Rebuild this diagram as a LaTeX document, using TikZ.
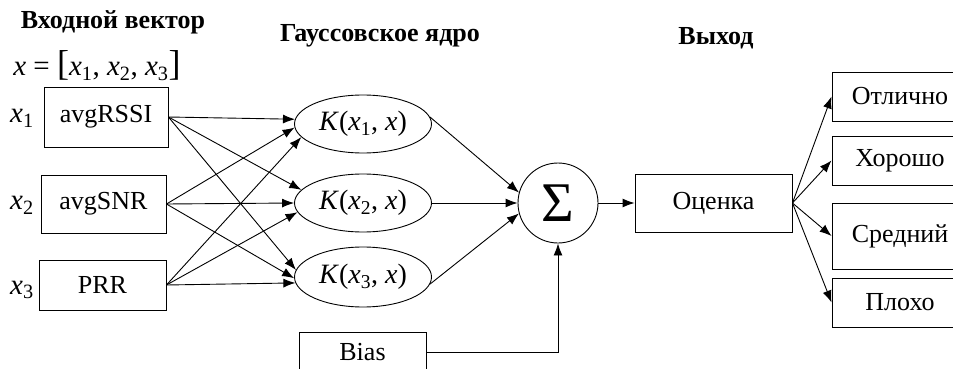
\documentclass[tikz,border=0pt]{standalone}
\usepackage{fontspec}
\setmainfont{Liberation Serif}
\usetikzlibrary{arrows.meta, shapes.geometric}
\newcommand{\vx}[1]{\textit{x}\textsubscript{#1}}
\tikzset{
  blk/.style={draw, line width=0.9pt, inner sep=0pt, font=\fontsize{26}{30}\selectfont},
  inbox/.style={blk, rectangle},
  kern/.style={blk, ellipse, minimum width=137pt, minimum height=58pt,
    font=\fontsize{28}{32}\selectfont},
  hdr/.style={font=\fontsize{26}{30}\selectfont\bfseries},
  mth/.style={font=\fontsize{29}{32}\selectfont},
  conn/.style={-{Latex[length=12pt, width=9pt]}, line width=0.9pt},
}

\begin{document}
\begin{tikzpicture}[x=1pt, y=-1pt]
  \useasboundingbox (0,0) rectangle (953,369);
  % headings
  \node[hdr] (hin) at (113,22) {Входной вектор};
  \node[hdr] (hker) at (380,36) {Гауссовское ядро};
  \node[hdr] (hout) at (716,38) {Выход};
  \node[mth] (vec) at (97,66) {\textit{x} = {\fontsize{36}{36}\selectfont[}\vx{1}, \vx{2}, \vx{3}{\fontsize{36}{36}\selectfont]}};
  % inputs
  \node[inbox, minimum width=124pt, minimum height=60pt] (in1) at (106,117) {avgRSSI};
  \node[inbox, minimum width=125pt, minimum height=58pt] (in2) at (103.5,204) {avgSNR};
  \node[inbox, minimum width=127pt, minimum height=50pt] (in3) at (102.5,285) {PRR};
  \node[mth] (lx1) at (22,118) {\vx{1}};
  \node[mth] (lx2) at (22,205) {\vx{2}};
  \node[mth] (lx3) at (22,290) {\vx{3}};
  % kernels
  \node[kern] (k1) at (363,124) {\textit{K}(\vx{1}, \textit{x})};
  \node[kern] (k2) at (363,203) {\textit{K}(\vx{2}, \textit{x})};
  \node[kern, minimum height=60pt] (k3) at (363,277) {\textit{K}(\vx{3}, \textit{x})};
  \node[inbox, minimum width=127pt, minimum height=40pt] (bias) at (362.5,352) {Bias};
  % sum and score
  \node[blk, circle, minimum size=80pt, font=\fontsize{56}{56}\selectfont] (sum) at (558,203) {Σ};
  \node[inbox, minimum width=157pt, minimum height=58pt] (score) at (713.5,203) {Оценка};
  % classes
  \node[inbox, minimum width=136pt, minimum height=49pt] (c1) at (900,96.5) {Отлично};
  \node[inbox, minimum width=136pt, minimum height=49pt] (c2) at (900,160.5) {Хорошо};
  \node[inbox, minimum width=136pt, minimum height=66pt] (c3) at (900,236) {Средний};
  \node[inbox, minimum width=136pt, minimum height=49pt] (c4) at (900,302.5) {Плохо};
  % connections
  \foreach \i/\a/\b/\c in {1/176/168/174, 2/183/180/181, 3/192/188/185}{
    \draw[conn] (in\i.east) -- (k1.\a);
    \draw[conn] (in\i.east) -- (k2.\b);
    \draw[conn] (in\i.east) -- (k3.\c);
  }
  \draw[conn] (k1.6) -- (sum.165);
  \draw[conn] (k2.east) -- (sum.west);
  \draw[conn] (k3.354) -- (sum.195);
  \draw[conn] (bias.east) -| (sum.south);
  \draw[conn] (sum.east) -- (score.west);
  \foreach \j in {1,...,4}
    \draw[conn] (score.east) -- (c\j.west);
\end{tikzpicture}
\end{document}
